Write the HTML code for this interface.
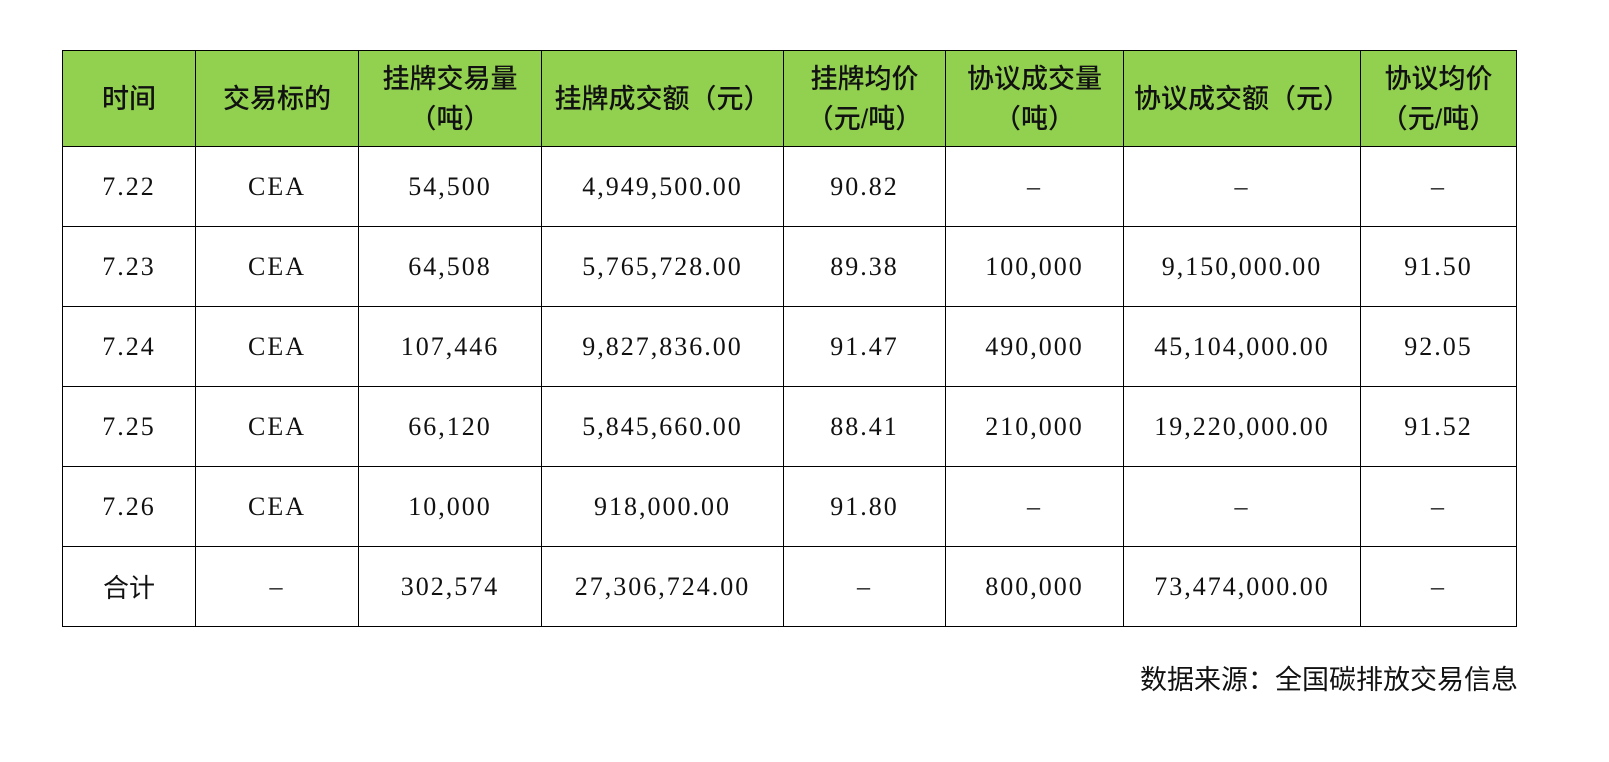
<!DOCTYPE html>
<html><head><meta charset="utf-8"><style>
body{margin:0;background:#fff;width:1609px;height:762px;position:relative;overflow:hidden}
table{position:absolute;left:62px;top:50px;border-collapse:collapse;table-layout:fixed}
td{border:1.5px solid #000;text-align:center;padding:0;color:#111}
tr.h td{background:#92D050;height:95px;font-family:"Liberation Sans","Noto Sans CJK SC",sans-serif;font-size:27px;line-height:40px;font-weight:500}
tr.b td{height:79px;font-family:"Liberation Serif","Noto Serif CJK SC",serif;font-size:26px;letter-spacing:2px}
tr.b td span{display:inline-block;transform:scaleX(0.9)}
.cn{font-family:"Liberation Sans","Noto Sans CJK SC",sans-serif!important;letter-spacing:0!important}
.src{position:absolute;right:91px;top:658px;font-family:"Liberation Sans","Noto Sans CJK SC",sans-serif;font-size:27px;color:#111}
</style></head><body>
<table>
<colgroup><col style="width:133px"><col style="width:163px"><col style="width:183px"><col style="width:242px"><col style="width:162px"><col style="width:178px"><col style="width:237px"><col style="width:156px"></colgroup>
<tr class="h"><td>时间</td><td>交易标的</td><td>挂牌交易量<br>（吨）</td><td>挂牌成交额（元）</td><td>挂牌均价<br>（元/吨）</td><td>协议成交量<br>（吨）</td><td>协议成交额（元）</td><td>协议均价<br>（元/吨）</td></tr>
<tr class="b"><td>7.22</td><td>CEA</td><td>54,500</td><td>4,949,500.00</td><td>90.82</td><td>–</td><td>–</td><td>–</td></tr>
<tr class="b"><td>7.23</td><td>CEA</td><td>64,508</td><td>5,765,728.00</td><td>89.38</td><td>100,000</td><td>9,150,000.00</td><td>91.50</td></tr>
<tr class="b"><td>7.24</td><td>CEA</td><td>107,446</td><td>9,827,836.00</td><td>91.47</td><td>490,000</td><td>45,104,000.00</td><td>92.05</td></tr>
<tr class="b"><td>7.25</td><td>CEA</td><td>66,120</td><td>5,845,660.00</td><td>88.41</td><td>210,000</td><td>19,220,000.00</td><td>91.52</td></tr>
<tr class="b"><td>7.26</td><td>CEA</td><td>10,000</td><td>918,000.00</td><td>91.80</td><td>–</td><td>–</td><td>–</td></tr>
<tr class="b"><td class="cn">合计</td><td>–</td><td>302,574</td><td>27,306,724.00</td><td>–</td><td>800,000</td><td>73,474,000.00</td><td>–</td></tr>
</table>
<div class="src">数据来源：全国碳排放交易信息</div>
</body></html>
